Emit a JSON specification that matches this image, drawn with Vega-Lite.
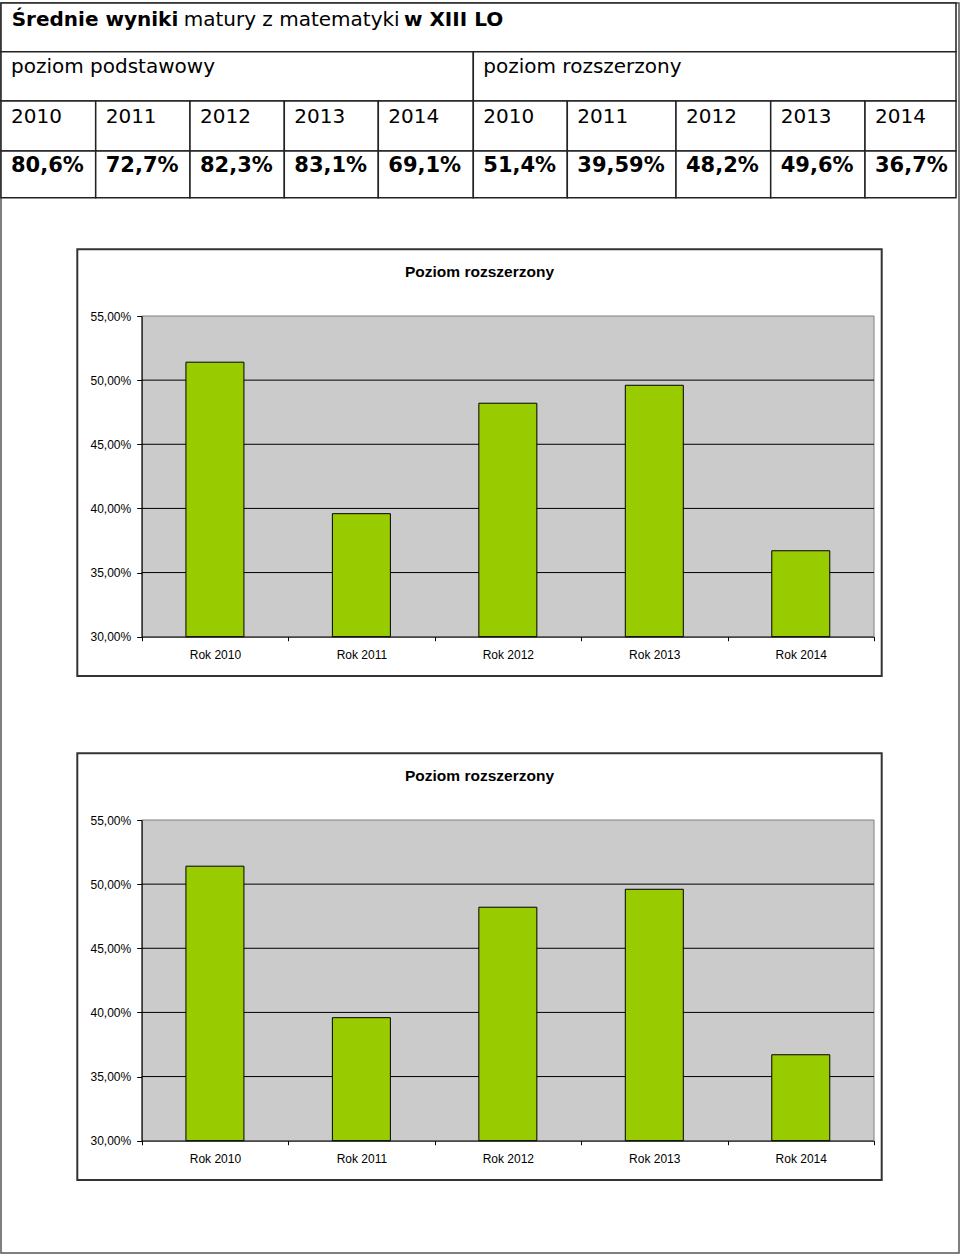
{
  "$schema": "https://vega.github.io/schema/vega-lite/v6.json",
  "width": 958,
  "height": 1250,
  "autosize": "none",
  "padding": {"left": 1, "top": 3, "right": 1, "bottom": 4},
  "background": "white",
  "config": {"view": {"stroke": "#555555", "strokeWidth": 1.5, "fill": "white"}},
  "datasets": {
    "table": [
      {"row": 0, "row_end": 1, "col": 0, "col_end": 10, "label": "Średnie wyniki", "seg": "t1"},
      {"row": 0, "row_end": 1, "col": 0, "col_end": 10, "label": "matury z matematyki", "seg": "t2"},
      {"row": 0, "row_end": 1, "col": 0, "col_end": 10, "label": "w XIII LO", "seg": "t3"},
      {"row": 1, "row_end": 2, "col": 0, "col_end": 5, "label": "poziom podstawowy", "seg": "head"},
      {"row": 1, "row_end": 2, "col": 5, "col_end": 10, "label": "poziom rozszerzony", "seg": "head"},
      {"row": 2, "row_end": 3, "col": 0, "col_end": 1, "label": "2010", "seg": "year"},
      {"row": 2, "row_end": 3, "col": 1, "col_end": 2, "label": "2011", "seg": "year"},
      {"row": 2, "row_end": 3, "col": 2, "col_end": 3, "label": "2012", "seg": "year"},
      {"row": 2, "row_end": 3, "col": 3, "col_end": 4, "label": "2013", "seg": "year"},
      {"row": 2, "row_end": 3, "col": 4, "col_end": 5, "label": "2014", "seg": "year"},
      {"row": 2, "row_end": 3, "col": 5, "col_end": 6, "label": "2010", "seg": "year"},
      {"row": 2, "row_end": 3, "col": 6, "col_end": 7, "label": "2011", "seg": "year"},
      {"row": 2, "row_end": 3, "col": 7, "col_end": 8, "label": "2012", "seg": "year"},
      {"row": 2, "row_end": 3, "col": 8, "col_end": 9, "label": "2013", "seg": "year"},
      {"row": 2, "row_end": 3, "col": 9, "col_end": 10, "label": "2014", "seg": "year"},
      {"row": 3, "row_end": 4, "col": 0, "col_end": 1, "label": "80,6%", "seg": "value"},
      {"row": 3, "row_end": 4, "col": 1, "col_end": 2, "label": "72,7%", "seg": "value"},
      {"row": 3, "row_end": 4, "col": 2, "col_end": 3, "label": "82,3%", "seg": "value"},
      {"row": 3, "row_end": 4, "col": 3, "col_end": 4, "label": "83,1%", "seg": "value"},
      {"row": 3, "row_end": 4, "col": 4, "col_end": 5, "label": "69,1%", "seg": "value"},
      {"row": 3, "row_end": 4, "col": 5, "col_end": 6, "label": "51,4%", "seg": "value"},
      {"row": 3, "row_end": 4, "col": 6, "col_end": 7, "label": "39,59%", "seg": "value"},
      {"row": 3, "row_end": 4, "col": 7, "col_end": 8, "label": "48,2%", "seg": "value"},
      {"row": 3, "row_end": 4, "col": 8, "col_end": 9, "label": "49,6%", "seg": "value"},
      {"row": 3, "row_end": 4, "col": 9, "col_end": 10, "label": "36,7%", "seg": "value"}
    ],
    "bars": [
      {"year": 2010, "score": 0.514},
      {"year": 2011, "score": 0.3959},
      {"year": 2012, "score": 0.482},
      {"year": 2013, "score": 0.496},
      {"year": 2014, "score": 0.367}
    ],
    "charttitle": [{"title": "Poziom rozszerzony"}],
    "grid": [{"grid": 0.35}, {"grid": 0.40}, {"grid": 0.45}, {"grid": 0.50}]
  },
  "resolve": {"scale": {"x": "independent", "y": "independent"}},
  "layer": [
    {
      "data": {"name": "table"},
      "transform": [{"filter": "datum.seg != 't2' && datum.seg != 't3'"}],
      "mark": {"type": "rect", "fill": "white", "stroke": "#222222", "strokeWidth": 1.5},
      "encoding": {
        "x": {"field": "col", "type": "quantitative", "scale": {"domain": [0,1,2,3,4,5,6,7,8,9,10], "range": [0,94.7,189,283.3,377.3,472.3,566.3,675,769.7,864,955], "nice": false, "zero": false, "padding": 0}, "axis": null},
        "x2": {"field": "col_end"},
        "y": {"field": "row", "type": "quantitative", "scale": {"domain": [0,1,2,3,4], "range": [0,48.7,98,148,194.7], "nice": false, "zero": false, "padding": 0}, "axis": null},
        "y2": {"field": "row_end"}
      }
    },
    {
      "data": {"name": "table"},
      "transform": [{"filter": "datum.seg == 't1'"}],
      "mark": {"type": "text", "align": "left", "baseline": "alphabetic", "dx": 10.7, "dy": 23, "font": "DejaVu Sans", "fontSize": 20, "fontWeight": "bold", "fill": "black"},
      "encoding": {
        "x": {"field": "col", "type": "quantitative", "scale": {"domain": [0,1,2,3,4,5,6,7,8,9,10], "range": [0,94.7,189,283.3,377.3,472.3,566.3,675,769.7,864,955], "nice": false, "zero": false}, "axis": null},
        "y": {"field": "row", "type": "quantitative", "scale": {"domain": [0,1,2,3,4], "range": [0,48.7,98,148,194.7], "nice": false, "zero": false}, "axis": null},
        "text": {"field": "label"}
      }
    },
    {
      "data": {"name": "table"},
      "transform": [{"filter": "datum.seg == 't2'"}],
      "mark": {"type": "text", "align": "left", "baseline": "alphabetic", "dx": 182.7, "dy": 23, "font": "DejaVu Sans", "fontSize": 20, "fontWeight": "normal", "fill": "black"},
      "encoding": {
        "x": {"field": "col", "type": "quantitative", "scale": {"domain": [0,1,2,3,4,5,6,7,8,9,10], "range": [0,94.7,189,283.3,377.3,472.3,566.3,675,769.7,864,955], "nice": false, "zero": false}, "axis": null},
        "y": {"field": "row", "type": "quantitative", "scale": {"domain": [0,1,2,3,4], "range": [0,48.7,98,148,194.7], "nice": false, "zero": false}, "axis": null},
        "text": {"field": "label"}
      }
    },
    {
      "data": {"name": "table"},
      "transform": [{"filter": "datum.seg == 't3'"}],
      "mark": {"type": "text", "align": "left", "baseline": "alphabetic", "dx": 403, "dy": 23, "font": "DejaVu Sans", "fontSize": 20, "fontWeight": "bold", "fill": "black"},
      "encoding": {
        "x": {"field": "col", "type": "quantitative", "scale": {"domain": [0,1,2,3,4,5,6,7,8,9,10], "range": [0,94.7,189,283.3,377.3,472.3,566.3,675,769.7,864,955], "nice": false, "zero": false}, "axis": null},
        "y": {"field": "row", "type": "quantitative", "scale": {"domain": [0,1,2,3,4], "range": [0,48.7,98,148,194.7], "nice": false, "zero": false}, "axis": null},
        "text": {"field": "label"}
      }
    },
    {
      "data": {"name": "table"},
      "transform": [{"filter": "datum.seg == 'head'"}],
      "mark": {"type": "text", "align": "left", "baseline": "alphabetic", "dx": 10, "dy": 21.3, "font": "DejaVu Sans", "fontSize": 20, "fontWeight": "normal", "fill": "black"},
      "encoding": {
        "x": {"field": "col", "type": "quantitative", "scale": {"domain": [0,1,2,3,4,5,6,7,8,9,10], "range": [0,94.7,189,283.3,377.3,472.3,566.3,675,769.7,864,955], "nice": false, "zero": false}, "axis": null},
        "y": {"field": "row", "type": "quantitative", "scale": {"domain": [0,1,2,3,4], "range": [0,48.7,98,148,194.7], "nice": false, "zero": false}, "axis": null},
        "text": {"field": "label"}
      }
    },
    {
      "data": {"name": "table"},
      "transform": [{"filter": "datum.seg == 'year'"}],
      "mark": {"type": "text", "align": "left", "baseline": "alphabetic", "dx": 10, "dy": 22, "font": "DejaVu Sans", "fontSize": 20, "fontWeight": "normal", "fill": "black"},
      "encoding": {
        "x": {"field": "col", "type": "quantitative", "scale": {"domain": [0,1,2,3,4,5,6,7,8,9,10], "range": [0,94.7,189,283.3,377.3,472.3,566.3,675,769.7,864,955], "nice": false, "zero": false}, "axis": null},
        "y": {"field": "row", "type": "quantitative", "scale": {"domain": [0,1,2,3,4], "range": [0,48.7,98,148,194.7], "nice": false, "zero": false}, "axis": null},
        "text": {"field": "label"}
      }
    },
    {
      "data": {"name": "table"},
      "transform": [{"filter": "datum.seg == 'value'"}],
      "mark": {"type": "text", "align": "left", "baseline": "alphabetic", "dx": 10, "dy": 21, "font": "DejaVu Sans", "fontSize": 21, "fontWeight": "bold", "fill": "black"},
      "encoding": {
        "x": {"field": "col", "type": "quantitative", "scale": {"domain": [0,1,2,3,4,5,6,7,8,9,10], "range": [0,94.7,189,283.3,377.3,472.3,566.3,675,769.7,864,955], "nice": false, "zero": false}, "axis": null},
        "y": {"field": "row", "type": "quantitative", "scale": {"domain": [0,1,2,3,4], "range": [0,48.7,98,148,194.7], "nice": false, "zero": false}, "axis": null},
        "text": {"field": "label"}
      }
    },
    {
      "data": {"name": "charttitle"},
      "mark": {"type": "rect", "fill": "white", "stroke": "#333333", "strokeWidth": 2},
      "encoding": {
        "x": {"datum": 0, "type": "quantitative", "scale": {"domain": [0, 1], "range": [76.3, 880.7], "nice": false, "zero": false, "padding": 0}, "axis": null},
        "x2": {"datum": 1},
        "y": {"datum": 0, "type": "quantitative", "scale": {"domain": [0, 1], "range": [246.3, 673], "nice": false, "zero": false, "padding": 0}, "axis": null},
        "y2": {"datum": 1}
      }
    },
    {
      "data": {"name": "charttitle"},
      "mark": {"type": "text", "align": "center", "baseline": "alphabetic", "dy": 28, "font": "Liberation Sans", "fontSize": 15.5, "fontWeight": "bold", "fill": "black"},
      "encoding": {
        "x": {"datum": 0.5, "type": "quantitative", "scale": {"domain": [0, 1], "range": [76.3, 880.7], "nice": false, "zero": false}, "axis": null},
        "y": {"datum": 0, "type": "quantitative", "scale": {"domain": [0, 1], "range": [246.3, 673], "nice": false, "zero": false}, "axis": null},
        "text": {"field": "title"}
      }
    },
    {
      "data": {"name": "charttitle"},
      "mark": {"type": "rect", "fill": "#cbcbcb", "stroke": "#808080", "strokeWidth": 1},
      "encoding": {
        "x": {"datum": 2009.5, "type": "quantitative", "scale": {"domain": [2009.5, 2014.5], "range": [140.7, 873], "nice": false, "zero": false, "padding": 0}, "axis": null},
        "x2": {"datum": 2014.5},
        "y": {"datum": 0.30, "type": "quantitative", "scale": {"domain": [0.30, 0.55], "range": [633.7, 313], "nice": false, "zero": false, "padding": 0}, "axis": null},
        "y2": {"datum": 0.55}
      }
    },
    {
      "data": {"name": "grid"},
      "mark": {"type": "rule", "color": "black", "strokeWidth": 1},
      "encoding": {
        "x": {"datum": 2009.5, "type": "quantitative", "scale": {"domain": [2009.5, 2014.5], "range": [140.7, 873], "nice": false, "zero": false, "padding": 0}, "axis": null},
        "x2": {"datum": 2014.5},
        "y": {"field": "grid", "type": "quantitative", "scale": {"domain": [0.30, 0.55], "range": [633.7, 313], "nice": false, "zero": false, "padding": 0}, "axis": null}
      }
    },
    {
      "data": {"name": "bars"},
      "mark": {"type": "bar", "fill": "#99cc00", "stroke": "black", "strokeWidth": 1, "width": 58},
      "encoding": {
        "x": {"field": "year", "type": "quantitative", "scale": {"domain": [2009.5, 2014.5], "range": [140.7, 873], "nice": false, "zero": false, "padding": 0},
          "axis": {"orient": "bottom", "offset": -616.3, "values": [2009.5, 2010.5, 2011.5, 2012.5, 2013.5, 2014.5], "labelExpr": "datum.value < 2014 ? 'Rok ' + (datum.value + 0.5) : ''", "labelOffset": 73.2, "labelFlush": false, "labelOverlap": false, "labelBound": false, "tickSize": 4, "tickColor": "black", "domainColor": "black", "labelFont": "Liberation Sans", "labelFontSize": 12, "labelColor": "black", "labelPadding": 9, "grid": false, "title": null, "zindex": 1}},
        "y": {"field": "score", "type": "quantitative", "scale": {"domain": [0.30, 0.55], "range": [633.7, 313], "nice": false, "zero": false, "padding": 0},
          "axis": {"orient": "left", "offset": -140.7, "values": [0.30, 0.35, 0.40, 0.45, 0.50, 0.55], "labelExpr": "replace(format(datum.value, '.2%'), '.', ',')", "labelOverlap": false, "labelBound": false, "labelFlush": false, "tickSize": 5, "tickColor": "black", "domainColor": "black", "labelFont": "Liberation Sans", "labelFontSize": 12, "labelColor": "black", "labelPadding": 6, "grid": false, "title": null, "zindex": 1}},
        "y2": {"datum": 0.30}
      }
    },
    {
      "data": {"name": "charttitle"},
      "mark": {"type": "rect", "fill": "white", "stroke": "#333333", "strokeWidth": 2},
      "encoding": {
        "x": {"datum": 0, "type": "quantitative", "scale": {"domain": [0, 1], "range": [76.3, 880.7], "nice": false, "zero": false, "padding": 0}, "axis": null},
        "x2": {"datum": 1},
        "y": {"datum": 0, "type": "quantitative", "scale": {"domain": [0, 1], "range": [750.3, 1177], "nice": false, "zero": false, "padding": 0}, "axis": null},
        "y2": {"datum": 1}
      }
    },
    {
      "data": {"name": "charttitle"},
      "mark": {"type": "text", "align": "center", "baseline": "alphabetic", "dy": 28, "font": "Liberation Sans", "fontSize": 15.5, "fontWeight": "bold", "fill": "black"},
      "encoding": {
        "x": {"datum": 0.5, "type": "quantitative", "scale": {"domain": [0, 1], "range": [76.3, 880.7], "nice": false, "zero": false}, "axis": null},
        "y": {"datum": 0, "type": "quantitative", "scale": {"domain": [0, 1], "range": [750.3, 1177], "nice": false, "zero": false}, "axis": null},
        "text": {"field": "title"}
      }
    },
    {
      "data": {"name": "charttitle"},
      "mark": {"type": "rect", "fill": "#cbcbcb", "stroke": "#808080", "strokeWidth": 1},
      "encoding": {
        "x": {"datum": 2009.5, "type": "quantitative", "scale": {"domain": [2009.5, 2014.5], "range": [140.7, 873], "nice": false, "zero": false, "padding": 0}, "axis": null},
        "x2": {"datum": 2014.5},
        "y": {"datum": 0.30, "type": "quantitative", "scale": {"domain": [0.30, 0.55], "range": [1137.7, 817], "nice": false, "zero": false, "padding": 0}, "axis": null},
        "y2": {"datum": 0.55}
      }
    },
    {
      "data": {"name": "grid"},
      "mark": {"type": "rule", "color": "black", "strokeWidth": 1},
      "encoding": {
        "x": {"datum": 2009.5, "type": "quantitative", "scale": {"domain": [2009.5, 2014.5], "range": [140.7, 873], "nice": false, "zero": false, "padding": 0}, "axis": null},
        "x2": {"datum": 2014.5},
        "y": {"field": "grid", "type": "quantitative", "scale": {"domain": [0.30, 0.55], "range": [1137.7, 817], "nice": false, "zero": false, "padding": 0}, "axis": null}
      }
    },
    {
      "data": {"name": "bars"},
      "mark": {"type": "bar", "fill": "#99cc00", "stroke": "black", "strokeWidth": 1, "width": 58},
      "encoding": {
        "x": {"field": "year", "type": "quantitative", "scale": {"domain": [2009.5, 2014.5], "range": [140.7, 873], "nice": false, "zero": false, "padding": 0},
          "axis": {"orient": "bottom", "offset": -112.3, "values": [2009.5, 2010.5, 2011.5, 2012.5, 2013.5, 2014.5], "labelExpr": "datum.value < 2014 ? 'Rok ' + (datum.value + 0.5) : ''", "labelOffset": 73.2, "labelFlush": false, "labelOverlap": false, "labelBound": false, "tickSize": 4, "tickColor": "black", "domainColor": "black", "labelFont": "Liberation Sans", "labelFontSize": 12, "labelColor": "black", "labelPadding": 9, "grid": false, "title": null, "zindex": 1}},
        "y": {"field": "score", "type": "quantitative", "scale": {"domain": [0.30, 0.55], "range": [1137.7, 817], "nice": false, "zero": false, "padding": 0},
          "axis": {"orient": "left", "offset": -140.7, "values": [0.30, 0.35, 0.40, 0.45, 0.50, 0.55], "labelExpr": "replace(format(datum.value, '.2%'), '.', ',')", "labelOverlap": false, "labelBound": false, "labelFlush": false, "tickSize": 5, "tickColor": "black", "domainColor": "black", "labelFont": "Liberation Sans", "labelFontSize": 12, "labelColor": "black", "labelPadding": 6, "grid": false, "title": null, "zindex": 1}},
        "y2": {"datum": 0.30}
      }
    }
  ]
}
